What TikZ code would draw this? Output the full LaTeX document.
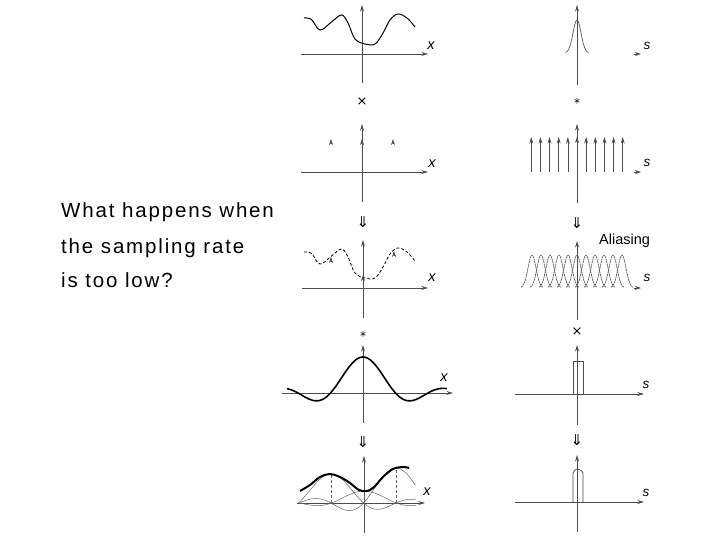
\documentclass[tikz,border=0pt]{standalone}
\usepackage{fontspec}
\setmainfont{Liberation Sans}
\newfontfamily\symf{DejaVu Sans}
\newfontfamily\qfont[LetterSpace=9]{Liberation Sans}
\usetikzlibrary{arrows.meta}
\begin{document}
\begin{tikzpicture}[x=1pt,y=-1pt,
  axis/.style={draw=black!70, line width=0.7pt, -{Stealth[length=6.5pt,width=3.8pt]}},
  tiponly/.style={draw=black!70, line width=0.5pt, -{Stealth[length=6pt,width=3.8pt]}},
  sig/.style={draw=black, line width=1pt},
  thick sig/.style={draw=black, line width=2pt},
  thin kern/.style={draw=black!60, line width=0.5pt},
  gauss/.style={draw=black!65, line width=0.7pt},
  lab/.style={font=\itshape\fontsize{14.5}{14.5}\selectfont, inner sep=0pt},
  slab/.style={font=\itshape\fontsize{13.5}{13.5}\selectfont, inner sep=0pt},
  op/.style={font=\symf\fontsize{13}{13}\selectfont, inner sep=0pt},
  star/.style={font=\symf\fontsize{12}{12}\selectfont, inner sep=0pt},
  dnarrow/.style={font=\symf\fontsize{15}{15}\selectfont, inner sep=0pt},
  question/.style={anchor=base west, font=\qfont\fontsize{20.5}{20.5}\selectfont, inner sep=0pt}]
\useasboundingbox[fill=white] (0,0) rectangle (720,540);

% ---------- question text ----------
\node[question] (q1) at (61,218) {What happens when};
\node[question] (q2) at (61,253) {the sampling rate};
\node[question] (q3) at (61,287) {is too low?};

% ================= LEFT COLUMN =================
% panel 1: signal
\draw[axis] (301,54) -- (428,54);
\draw[axis] (362,83) -- (362,5);
\node[lab] (xl1) at (431,46) {x};
\draw[sig] plot[smooth, tension=0.6] coordinates {(304,18) (311.5,19.5) (320,30) (331.5,22) (341.5,15) (348,23) (355,39) (365,44) (375,44) (383,33) (390,20) (398,14) (407,18) (415,27)};
\node[op] (opL1) at (362,102) {×};

% panel 2: sampling comb
\draw[axis] (301,172) -- (428,172);
\draw[axis] (362,202) -- (362,124);
\node[lab] (xl2) at (432,164) {x};
\foreach \px in {331,362,393} \draw[tiponly] (\px,144) -- (\px,139);
\node[dnarrow] (opL2) at (363,222) {⇓};

% panel 3: sampled signal
\draw[axis] (302,288) -- (428,288);
\draw[axis] (363,318) -- (363,240);
\node[lab] (xl3) at (432,278) {x};
\begin{scope}[yshift=-234pt]
\draw[sig, densely dashed, line width=0.8pt] plot[smooth, tension=0.6] coordinates {(304,18) (311.5,19.5) (320,30) (331.5,22) (341.5,15) (348,23) (355,39) (365,44) (375,44) (383,33) (390,20) (398,14) (407,18) (415,27)};
\end{scope}
\draw[tiponly] (331,262) -- (331,257);
\draw[tiponly] (363,280) -- (363,275);
\draw[tiponly] (394,256) -- (394,251);
\node[star] (opL3) at (363,336) {*};

% panel 4: sinc filter
\draw[axis] (282,393) -- (453,393);
\draw[axis] (363,423) -- (363,345);
\node[lab] (xl4) at (444,378) {x};
\draw[sig, line width=1.6pt] plot[domain=-2.34:2.58, samples=101, smooth] ({363+32.5*\x},{393-36*sin(180*\x)/(pi*\x)});
\node[dnarrow] (opL4) at (363,442) {⇓};

% panel 5: reconstruction
\draw[axis] (297,503) -- (425,503);
\draw[axis] (364,533) -- (364,456);
\node[lab] (xl5) at (427,492) {x};
\draw[thin kern] plot[domain=-1:2.6, samples=60, smooth] ({331+32.5*\x},{503-29*sin(180*\x)/(pi*\x)});
\draw[thin kern] plot[domain=-2:1.6, samples=60, smooth] ({364+32.5*\x},{503-12*sin(180*\x)/(pi*\x)});
\draw[thin kern] plot[domain=-2.95:0.6, samples=61, smooth] ({396+32.5*\x},{503-35*sin(180*\x)/(pi*\x)});
\draw[thin kern, densely dashed] (331,503) -- (331,474);
\draw[thin kern, densely dashed] (364,503) -- (364,491);
\draw[thin kern, densely dashed] (396,503) -- (396,468);
\draw[thick sig] plot[smooth, tension=0.6] coordinates {(300,491) (310,485) (320,477) (330,474) (340,477) (350,483) (359,490) (367,491) (374,487) (383,477) (393,469) (403,467) (409,468)};

% ================= RIGHT COLUMN =================
% panel 1: spectrum of signal
\draw[axis] (577,85) -- (577,5);
\draw[tiponly] (634,54) -- (641,54);
\node[slab] (s1) at (647,46) {s};
\draw[gauss] plot[domain=-11.5:11.5, samples=40, smooth] ({577+\x},{53-33*exp(-(\x*\x)/32)});
\node[star] (opR1) at (577,103) {*};

% panel 2: spectrum of comb
\draw[axis] (577,203) -- (577,124);
\foreach \k in {-5,...,-1,1,2,...,5} \draw[axis] ({577+9.15*\k},172) -- ({577+9.15*\k},137);
\draw[tiponly] (577,142) -- (577,137);
\draw[tiponly] (634,172) -- (641,172);
\node[slab] (s2) at (647,163) {s};
\node[dnarrow] (opR2) at (577,223) {⇓};

% panel 3: aliasing
\draw[axis] (577,320) -- (577,241);
\foreach \k in {-5,...,5} \draw[gauss, dash pattern=on 2pt off 0.6pt] plot[domain=-11:11, samples=30, smooth] ({577+9.0*\k+\x},{288-33*exp(-(\x*\x)/32)});
\draw[tiponly] (634,288) -- (641,288);
\node[slab] (s3) at (647,278) {s};
\node[anchor=base west, font=\fontsize{14.5}{14.5}\selectfont, inner sep=0pt] (alias) at (599,244) {Aliasing};
\node[op] (opR3) at (577,332) {×};

% panel 4: box filter
\draw[axis] (515,394) -- (644,394);
\draw[axis] (577,425) -- (577,345);
\draw[draw=black!70, line width=0.7pt] (573,394) -- (573,361) -- (583,361) -- (583,394);
\node[slab] (s4) at (646,385) {s};
\node[dnarrow] (opR4) at (577,440) {⇓};

% panel 5: filtered spectrum
\draw[axis] (515,502) -- (644,502);
\draw[axis] (577,532) -- (577,455);
\draw[draw=black!70, line width=0.7pt] (573,502) -- (573,473) .. controls (574,470) and (576,469) .. (577,469) .. controls (578,469) and (582,470) .. (583,473) -- (583,502);
\node[slab] (s5) at (646,493) {s};
\end{tikzpicture}
\end{document}
